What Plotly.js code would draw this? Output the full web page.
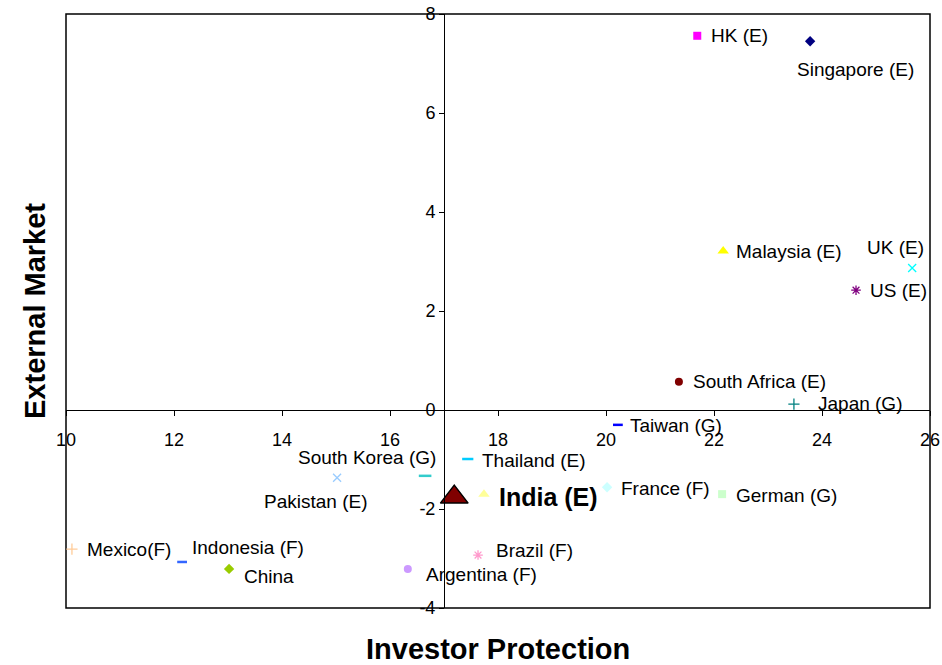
<!DOCTYPE html>
<html><head><meta charset="utf-8">
<script src="https://cdn.plot.ly/plotly-3.0.1.min.js"></script>
<style>html,body{margin:0;padding:0;background:#fff}#chart{width:942px;height:665px}</style>
</head><body><div id="chart"></div>
<script>
// ---- data ----
const countries = ["HK (E)","Singapore (E)","Malaysia (E)","UK (E)","US (E)","South Africa (E)","Japan (G)","Taiwan (G)","Thailand (E)","South Korea (G)","Pakistan (E)","India (E)","France (F)","German (G)","Brazil (F)","Argentina (F)","China","Indonesia (F)","Mexico(F)"];
const investorProtection = [21.69,23.78,22.17,25.67,24.63,21.35,23.48,20.22,17.44,16.65,15.02,17.74,20.02,22.15,17.63,16.33,13.02,12.15,10.11];
const externalMarket = [7.56,7.45,3.21,2.87,2.42,0.57,0.12,-0.30,-0.99,-1.33,-1.37,-1.70,-1.56,-1.70,-2.93,-3.21,-3.21,-3.07,-2.81];
const highlightX = [17.19];
const highlightY = [-1.76];
const xTickVals = [10,12,14,16,18,20,22,24,26];
const yTickVals = [-4,-2,0,2,4,6,8];

// ---- styles ----
const symbols = ["square","diamond","triangle-up","x-thin-open","asterisk-open","circle","cross-thin-open","line-ew-open","line-ew-open","line-ew-open","x-thin-open","triangle-up","diamond","square","asterisk-open","circle","diamond","line-ew-open","cross-thin-open"];
const colors = ["#FF00FF","#000080","#FFFF00","#00FFFF","#800080","#800000","#008080","#0000FF","#00CCFF","#33CCCC","#99CCFF","#FFFF99","#CCFFFF","#CCFFCC","#FF99CC","#CC99FF","#99CC00","#3366FF","#FFCC99"];
const sizes = [8,8,10,8,8,8,8,7,8,9,8,10,8,8,8,8,8,7,8];
const lineW = symbols.map(s => s.endsWith("-open") ? (s.startsWith("line") ? 2.5 : 1.3) : 0);
const labelShiftX = [12,-15,11,-47,12,12,22,10,12,-129,-75,13,12,12,16,16,13,8,13];
const labelShiftY = [0,-28,0,20,0,0,1,-1,-1,18,-24,-3,-1,-1,5,-6,-8,14,0];

const font = "Liberation Sans, Arial, sans-serif";

const traces = [
  {
    type: "scatter", mode: "markers",
    x: investorProtection, y: externalMarket,
    marker: {symbol: symbols, color: colors, size: sizes, opacity: 1, line: {color: colors, width: lineW}},
    hoverinfo: "text", text: countries, showlegend: false, cliponaxis: false
  },
  {
    type: "scatter", mode: "markers",
    x: highlightX, y: highlightY,
    marker: {symbol: "triangle-up", color: "#800000", size: 24, opacity: 1, line: {color: "#000", width: 1.5}},
    showlegend: false, hoverinfo: "skip"
  }
];

const annotations = countries.map((c, i) => ({
  x: investorProtection[i], y: externalMarket[i], xref: "x", yref: "y",
  text: c === "India (E)" ? "<b>" + c + "</b>" : c,
  showarrow: false, xanchor: "left", yanchor: "middle",
  xshift: labelShiftX[i], yshift: labelShiftY[i],
  font: {family: font, size: c === "India (E)" ? 25 : 19, color: "#000"}
}));
annotations.push({
  xref: "paper", yref: "paper", x: 0.5, y: 0, yshift: -41, yanchor: "middle",
  text: "<b>Investor Protection</b>", showarrow: false,
  font: {family: font, size: 29, color: "#000"}
});
annotations.push({
  xref: "paper", yref: "paper", x: 0, xshift: -31, y: 0.5, xanchor: "center",
  text: "<b>External Market</b>", showarrow: false, textangle: -90,
  font: {family: font, size: 29, color: "#000"}
});

const layout = {
  width: 942, height: 665,
  margin: {l: 66, r: 12, t: 14, b: 57},
  paper_bgcolor: "#fff", plot_bgcolor: "#fff",
  showlegend: false,
  xaxis: {
    range: [10, 26], tickvals: xTickVals, ticktext: xTickVals.map(String),
    anchor: "free", position: 1/3,
    showgrid: false, zeroline: false,
    showline: true, linecolor: "#000", linewidth: 1,
    ticks: "outside", ticklen: 5, tickcolor: "#000",
    ticklabelstandoff: 8,
    tickfont: {family: font, size: 18, color: "#000"}
  },
  yaxis: {
    range: [-4, 8], tickvals: yTickVals, ticktext: yTickVals.map(String),
    anchor: "free", position: 7/16,
    showgrid: false, zeroline: false,
    showline: true, linecolor: "#000", linewidth: 1,
    ticks: "outside", ticklen: 5, tickcolor: "#000",
    tickfont: {family: font, size: 18, color: "#000"}
  },
  shapes: [{
    type: "rect", xref: "paper", yref: "paper", x0: 0, x1: 1, y0: 0, y1: 1,
    line: {color: "#000", width: 1.5}, layer: "below"
  }],
  annotations: annotations
};

Plotly.newPlot("chart", traces, layout, {displayModeBar: false, staticPlot: true});
</script></body></html>
